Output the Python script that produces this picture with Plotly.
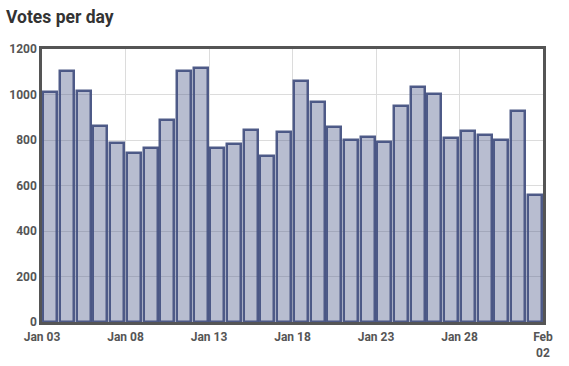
import plotly.graph_objects as go
import pandas as pd

# Data
days = pd.date_range("2019-01-03", periods=30, freq="D").strftime("%Y-%m-%d").tolist()
votes = [1013, 1103, 1016, 862, 789, 744, 763, 889, 1104, 1116,
         763, 783, 846, 729, 836, 1059, 967, 857, 801, 814,
         791, 950, 1031, 1003, 810, 840, 820, 798, 928, 559]
tick_dates = ["2019-01-03", "2019-01-08", "2019-01-13", "2019-01-18",
              "2019-01-23", "2019-01-28", "2019-02-02"]
tick_labels = ["Jan 03", "Jan 08", "Jan 13", "Jan 18", "Jan 23", "Jan 28", "Feb<br>02"]
y_ticks = [0, 200, 400, 600, 800, 1000, 1200]

DAY_MS = 86400000

fig = go.Figure(go.Bar(
    x=days,
    y=votes,
    xperiod=DAY_MS,
    xperiodalignment="middle",
    width=0.84 * DAY_MS,
    marker=dict(color="rgba(77,90,137,0.4)",
                line=dict(color="rgba(70,82,130,0.95)", width=2.5)),
    hoverinfo="x+y",
))

fig.update_layout(
    width=569, height=366,
    margin=dict(l=42, r=26, t=49, b=44, autoexpand=False),
    paper_bgcolor="white", plot_bgcolor="white",
    font=dict(family="Roboto", color="#555"),
    title=dict(text="Votes per day", x=6 / 569, xanchor="left",
               y=1 - 17 / 366, yanchor="middle", xref="container", yref="container",
               font=dict(family="Roboto", size=17.5, weight="bold", color="#333")),
    showlegend=False,
    bargap=0,
)
fig.update_xaxes(
    type="date",
    range=[tick_dates[0], tick_dates[-1]],
    tickvals=tick_dates, ticktext=tick_labels,
    tickfont=dict(family="Roboto", size=12, weight="bold", color="#555"),
    showgrid=True, gridcolor="#dcdcdc", gridwidth=1,
    showline=True, linecolor="#555", linewidth=2.5, mirror=True,
    ticks="", zeroline=False, automargin=False, ticklabelstandoff=2,
)
fig.update_yaxes(
    range=[0, 1200],
    tickvals=y_ticks,
    tickfont=dict(family="Roboto", size=12, weight="bold", color="#555"),
    showgrid=True, gridcolor="#dcdcdc", gridwidth=1,
    showline=True, linecolor="#555", linewidth=2.5, mirror=True,
    ticks="", zeroline=False, automargin=False,
)

fig.write_html("out.html", config={"displayModeBar": False},
               post_script="document.body.style.margin='0';")
